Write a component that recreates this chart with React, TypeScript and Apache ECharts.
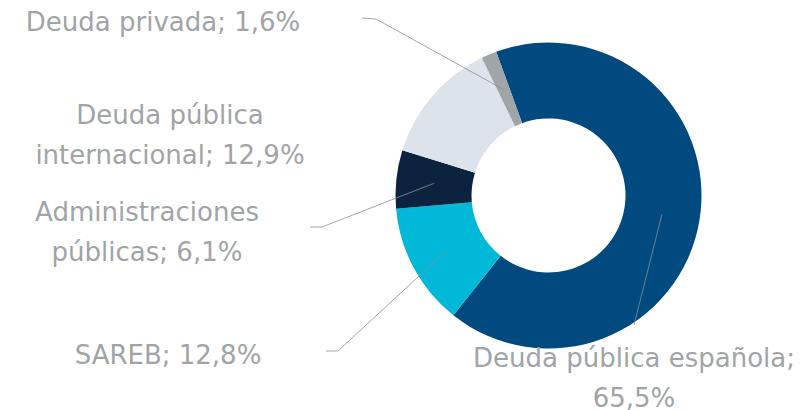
import React, { useEffect, useRef } from "react";
import * as echarts from "echarts";

// ---- data ----
const categories = [
  "Deuda pública española",
  "SAREB",
  "Administraciones públicas",
  "Deuda pública internacional",
  "Deuda privada",
];
const values = [65.5, 12.8, 6.1, 12.9, 1.6];
// word index after which the label text breaks onto a new line (-1 = none)
const breakAfterWord = [3, -1, 1, 2, -1];

// ---- styles / layout ----
const colors = ["#004a80", "#00b9d9", "#0c2340", "#dce3ea", "#a0a5a7"];
const textColor = "#9fa4a6";
const labelLayoutCfg = [
  { x: 634, y: 378, line: [[634, 325]] },
  { x: 168, y: 355, line: [[338, 351], [326, 351]] },
  { x: 147, y: 232, line: [[322, 227], [310, 227]] },
  { x: 170, y: 135, line: null },
  { x: 163, y: 22, line: [[376, 19], [362, 18]] },
];

const fmt = (v: number) => v.toFixed(1).replace(".", ",");

export default function App() {
  const ref = useRef<HTMLDivElement>(null);
  useEffect(() => {
    if (!ref.current) return;
    const chart = echarts.init(ref.current, null, { renderer: "svg" });
    const center = [548.5, 195.5];
    chart.setOption({
      animation: false,
      backgroundColor: "#ffffff",
      series: [
        {
          type: "pie",
          center,
          radius: [77, 153],
          startAngle: 110,
          clockwise: true,
          avoidLabelOverlap: false,
          silent: true,
          label: { show: false },
          labelLine: { show: false },
          emphasis: { disabled: true },
          data: categories.map((n, i) => ({
            name: n,
            value: values[i],
            itemStyle: { color: colors[i] },
          })),
          z: 1,
        },
        {
          type: "pie",
          center,
          radius: [0, 115],
          startAngle: 110,
          clockwise: true,
          avoidLabelOverlap: false,
          silent: true,
          emphasis: { disabled: true },
          itemStyle: { color: "rgba(0,0,0,0)" },
          z: 2,
          label: {
            show: true,
            position: "outside",
            color: textColor,
            fontFamily: "DejaVu Sans",
            fontSize: 26,
            lineHeight: 40,
            align: "center",
            formatter: (p: any) => {
              const words = `${p.name}; ${fmt(p.value)}%`.split(" ");
              const b = breakAfterWord[p.dataIndex];
              if (b < 0) return words.join(" ");
              return words.slice(0, b).join(" ") + "\n" + words.slice(b).join(" ");
            },
          },
          labelLine: {
            show: true,
            lineStyle: { color: "#8a8d8f", width: 0.8 },
          },
          labelLayout: (params: any) => {
            const cfg = labelLayoutCfg[params.dataIndex];
            const out: any = {
              x: cfg.x,
              y: cfg.y,
              align: "center",
              verticalAlign: "middle",
            };
            if (cfg.line && params.labelLinePoints) {
              out.labelLinePoints = [params.labelLinePoints[0], ...cfg.line];
            }
            return out;
          },
          data: categories.map((n, i) => ({
            name: n,
            value: values[i],
            labelLine: { show: labelLayoutCfg[i].line !== null },
          })),
        },
      ],
    });
    return () => chart.dispose();
  }, []);
  return (
    <div
      ref={ref}
      style={{ position: "fixed", left: 0, top: 0, width: 805, height: 410 }}
    />
  );
}
